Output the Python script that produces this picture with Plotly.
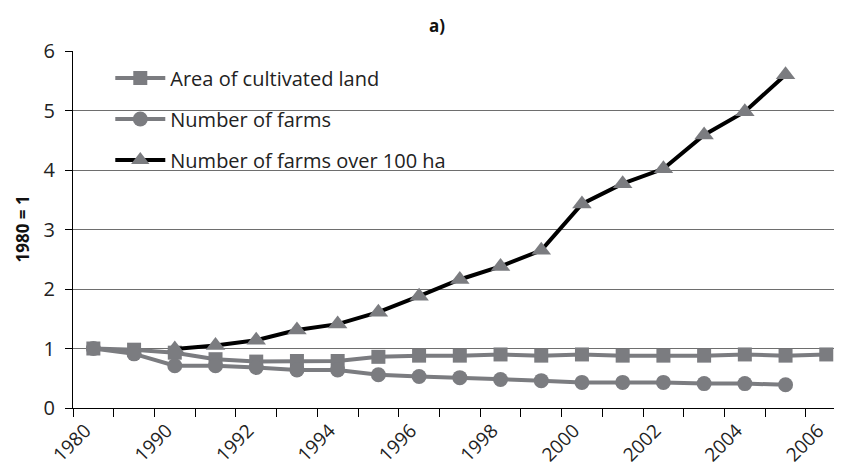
import plotly.graph_objects as go

years = ["1980", "1985", "1990", "1991", "1992", "1993", "1994", "1995", "1996",
         "1997", "1998", "1999", "2000", "2001", "2002", "2003", "2004", "2005", "2006"]
tick_labels = [y if i % 2 == 0 else "" for i, y in enumerate(years)]

area_cultivated = [1.00, 0.98, 0.93, 0.82, 0.78, 0.79, 0.79, 0.86, 0.88,
                   0.88, 0.90, 0.88, 0.90, 0.88, 0.88, 0.88, 0.90, 0.88, 0.90]
number_farms = [1.00, 0.91, 0.71, 0.71, 0.68, 0.64, 0.64, 0.56, 0.53,
                0.51, 0.48, 0.46, 0.43, 0.43, 0.43, 0.41, 0.41, 0.39]
farms_over_100 = [None, None, 0.99, 1.05, 1.14, 1.31, 1.41, 1.61, 1.88,
                  2.16, 2.38, 2.65, 3.43, 3.77, 4.02, 4.59, 4.98, 5.60]

GRAY = "#7b7c80"
FONT = "Open Sans"
TXT = "#222222"

fig = go.Figure()
fig.add_trace(go.Scatter(
    x=years, y=area_cultivated, name="Area of cultivated land", legendgroup="a",
    mode="lines+markers", line=dict(color=GRAY, width=4), cliponaxis=False,
    marker=dict(symbol="square", size=14, color=GRAY)))
fig.add_trace(go.Scatter(
    x=years[:len(number_farms)], y=number_farms, name="Number of farms", legendgroup="b",
    mode="lines+markers", line=dict(color=GRAY, width=4),
    marker=dict(symbol="circle", size=15, color=GRAY)))
fig.add_trace(go.Scatter(
    x=years[:len(farms_over_100)], y=farms_over_100, name="Number of farms over 100 ha",
    legendgroup="c", mode="lines+markers", line=dict(color="#000000", width=4),
    marker=dict(symbol="triangle-up", size=17, color=GRAY)))

# The page body has an 8px margin, so the figure is drawn 16px smaller
fig.update_layout(
    width=826, height=459,
    margin=dict(l=65, r=0, t=43, b=59, autoexpand=False),
    paper_bgcolor="white", plot_bgcolor="white",
    font=dict(family=FONT, size=20, color=TXT),
    showlegend=True,
    legend=dict(x=0.049, y=0.979, xanchor="left", yanchor="top",
                bgcolor="rgba(0,0,0,0)", font=dict(size=20, color=TXT),
                tracegroupgap=12, itemwidth=50),
    annotations=[
        dict(text="<b>a)</b>", x=0.478, y=1.0, xref="paper", yref="paper",
             yanchor="middle", yshift=26, showarrow=False,
             font=dict(size=17, color="#111111")),
        dict(text="<b>1980 = 1</b>", x=-0.067, y=0.5, xref="paper", yref="paper",
             xanchor="center", yanchor="middle", textangle=-90, showarrow=False,
             font=dict(size=17, color="#111111")),
    ],
    shapes=[
        dict(type="rect", xref="paper", yref="y", x0=0.003, x1=0.384, y0=4.82, y1=5.15,
             fillcolor="white", line=dict(width=0), layer="between"),
        dict(type="rect", xref="paper", yref="y", x0=0.003, x1=0.466, y0=3.85, y1=4.15,
             fillcolor="white", line=dict(width=0), layer="between"),
    ],
)

fig.update_xaxes(
    type="category", categoryorder="array", categoryarray=years,
    range=[-0.5, 18.19], automargin=False,
    tickmode="array", tickvals=years, ticktext=tick_labels,
    tickson="boundaries", ticks="outside", ticklen=8, tickcolor="#000", tickwidth=1,
    tickangle=-45, showgrid=False, showline=True, linecolor="#000", linewidth=1.2,
    tickfont=dict(size=19, color=TXT), ticklabelshift=-8, ticklabelstandoff=3,
)
fig.update_yaxes(
    range=[0, 6], dtick=1, tick0=0, ticks="outside", ticklen=7, tickcolor="#000",
    automargin=False,
    showgrid=True, gridcolor="#6e6e6e", gridwidth=1,
    showline=True, linecolor="#000", linewidth=1.2, zeroline=False,
    tickfont=dict(size=20, color=TXT), ticklabelstandoff=6,
)

fig.write_html("out.html")
